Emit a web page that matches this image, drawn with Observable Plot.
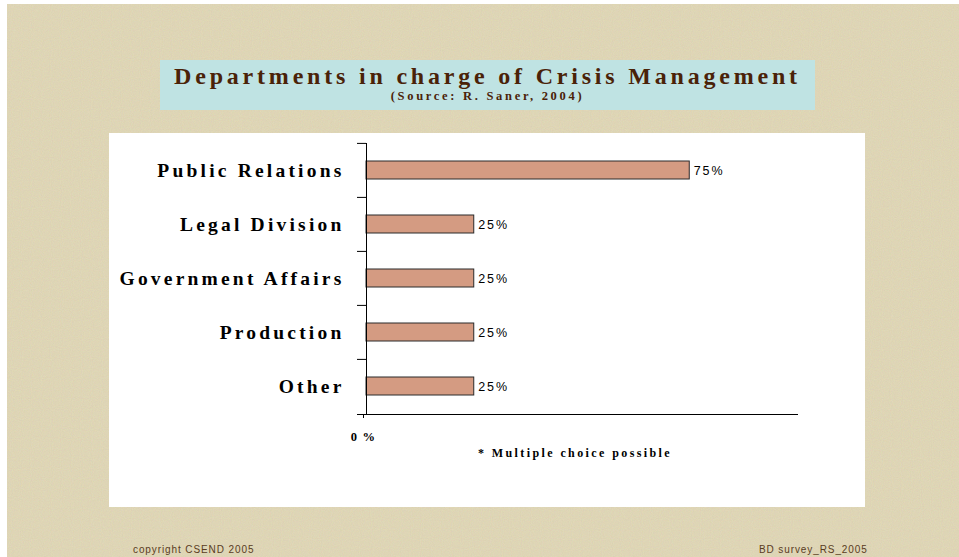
<!DOCTYPE html>
<html>
<head>
<meta charset="utf-8">
<script src="https://cdn.jsdelivr.net/npm/d3@7"></script>
<script src="https://cdn.jsdelivr.net/npm/@observablehq/plot@0.6"></script>
<style>
  html, body { margin: 0; padding: 0; background: #fff; }
  #page { position: absolute; left: 7px; top: 4px; width: 952px; height: 553px; background-color: #e1d7b3; overflow: hidden; }
  #grain { position: absolute; inset: 0; opacity: 0.35; }
  #titlebox { position: absolute; left: 160px; top: 60px; width: 655px; height: 50px; background: #bfe3e3; text-align: center; color: #4a2208; font-family: "Liberation Serif", "Times New Roman", serif; font-weight: bold; }
  #title { font-size: 24px; letter-spacing: 3.8px; line-height: 26px; padding-top: 3px; }
  #subtitle { font-size: 12.5px; letter-spacing: 2.7px; line-height: 14px; margin-top: 0px; }
  #panel { position: absolute; left: 109px; top: 133px; width: 756px; height: 374px; background: #fff; }
  #note { position: absolute; left: 478px; top: 446px; font-family: "Liberation Serif", "Times New Roman", serif; font-weight: bold; font-size: 12px; letter-spacing: 2.4px; color: #000; }
  .foot { position: absolute; top: 544px; font-family: "Liberation Sans", Arial, sans-serif; font-size: 10px; letter-spacing: 0.9px; color: #5a3c1e; }
</style>
</head>
<body>
<div id="page"><svg id="grain" width="952" height="553"><filter id="n"><feTurbulence type="fractalNoise" baseFrequency="0.9" numOctaves="2" seed="3"/><feColorMatrix type="matrix" values="0.3 0 0 0 0.55  0 0.3 0 0 0.5  0 0 0.3 0 0.35  0 0 0 0 1"/></filter><rect width="952" height="553" filter="url(#n)"/></svg></div>
<div id="titlebox"><div id="title">Departments in charge of Crisis Management</div><div id="subtitle">(Source: R. Saner, 2004)</div></div>
<div id="panel"></div>
<div id="note">* Multiple choice possible</div>
<div class="foot" style="left:133px">copyright CSEND 2005</div>
<div class="foot" style="left:759px">BD survey_RS_2005</div>
<script>
const categories = ["Public Relations", "Legal Division", "Government Affairs", "Production", "Other"];
const values = [75, 25, 25, 25, 25];
const xTicks = [0];

const data = categories.map((c, i) => ({category: c, value: values[i]}));

const chart = Plot.plot({
  width: 756,
  height: 374,
  marginLeft: 257,
  marginRight: 68,
  marginTop: 10,
  marginBottom: 93,
  style: {background: "white", color: "black", overflow: "visible"},
  x: {domain: [0, 100]},
  y: {domain: categories, paddingInner: 0.66, paddingOuter: 0.33},
  marks: [
    Plot.barX(data, {x: "value", y: "category", fill: "#d49b82", stroke: "#2a2a2a", strokeWidth: 1}),
    Plot.text(data, {x: "value", y: "category", text: d => d.value + "%", textAnchor: "start", dx: 4, fontSize: 12.5, fontFamily: "Liberation Sans, Arial, sans-serif", fill: "black"}),
    Plot.ruleY(categories, {y: d => d, x1: 0, x2: 0, insetLeft: -9, dy: -27.1, stroke: "black"}),
    Plot.frame({anchor: "left", stroke: "black"}),
    Plot.frame({anchor: "bottom", insetLeft: -9, stroke: "black"}),
    Plot.axisY({tickSize: 0, tickPadding: 22, fontSize: 19.5, fontWeight: "bold", fontFamily: "Liberation Serif, Times New Roman, serif", label: null}),
    Plot.axisX({ticks: xTicks, tickFormat: d => d + " %", tickSize: 4, tickPadding: 14, dx: -3, fontSize: 12.5, fontWeight: "bold", fontFamily: "Liberation Serif, Times New Roman, serif", label: null})
  ]
});
chart.querySelectorAll("g[aria-label='y-axis tick label'] text").forEach(t => t.style.letterSpacing = "3.2px");
chart.querySelectorAll("g[aria-label='x-axis tick label'] text").forEach(t => t.style.letterSpacing = "1.2px");
chart.querySelectorAll("g[aria-label='text'] text").forEach(t => t.style.letterSpacing = "1.9px");
document.getElementById("panel").appendChild(chart);
</script>
</body>
</html>
